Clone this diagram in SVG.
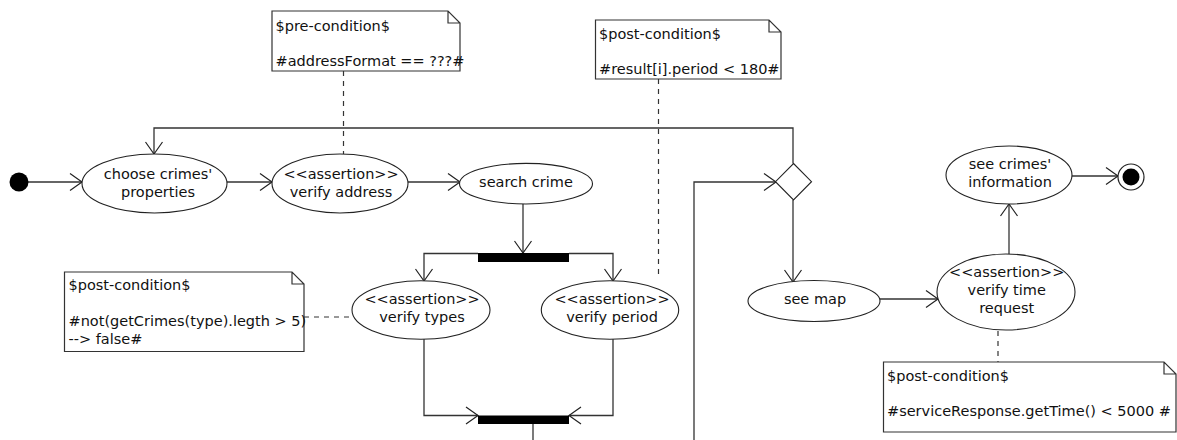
<svg xmlns="http://www.w3.org/2000/svg" width="1177" height="440" viewBox="0 0 1177 440">
<style>
text{font-family:"DejaVu Sans","Liberation Sans",sans-serif;font-size:14.5px;fill:#111}
.c{text-anchor:middle}
.n{fill:#fff;stroke:#333;stroke-width:1.2}
.a{fill:#fff;stroke:#222;stroke-width:1.1}
.l{fill:none;stroke:#333;stroke-width:1.3}
.d{fill:none;stroke:#333;stroke-width:1.2;stroke-dasharray:5,5}
.bar{fill:#000}
</style>
<defs>
<marker id="arr" markerUnits="userSpaceOnUse" markerWidth="16" markerHeight="20" refX="13" refY="10" orient="auto" overflow="visible">
<path d="M1,1.5 L13,10 L1,18.5" fill="none" stroke="#222" stroke-width="1.2"/>
</marker>
</defs>
<rect width="1177" height="440" fill="#fff"/>
<g id="connectors">
<line class="l" x1="28" y1="182" x2="82" y2="182" marker-end="url(#arr)"/>
<line class="l" x1="227" y1="182" x2="272" y2="182" marker-end="url(#arr)"/>
<line class="l" x1="408" y1="182" x2="460" y2="182" marker-end="url(#arr)"/>
<polyline class="l" points="793,163.5 793,128 154,128 154,154" marker-end="url(#arr)"/>
<line class="l" x1="523" y1="204" x2="523" y2="253" marker-end="url(#arr)"/>
<polyline class="l" points="478,253.5 424,253.5 424,281" marker-end="url(#arr)"/>
<polyline class="l" points="569,253.5 613,253.5 613,281" marker-end="url(#arr)"/>
<polyline class="l" points="424,339 424,415.5 478,415.5" marker-end="url(#arr)"/>
<polyline class="l" points="613,339 613,415.5 569,415.5" marker-end="url(#arr)"/>
<line class="l" x1="533" y1="424" x2="533" y2="440"/>
<polyline class="l" points="694,440 694,182 776,182" marker-end="url(#arr)"/>
<line class="l" x1="793" y1="200" x2="793" y2="282" marker-end="url(#arr)"/>
<line class="l" x1="880" y1="299" x2="938" y2="299" marker-end="url(#arr)"/>
<line class="l" x1="1009" y1="254" x2="1009" y2="204" marker-end="url(#arr)"/>
<line class="l" x1="1072" y1="176" x2="1118" y2="176" marker-end="url(#arr)"/>
<line class="d" x1="343.5" y1="71" x2="343.5" y2="154"/>
<line class="d" x1="658.5" y1="79" x2="658.5" y2="278"/>
<line class="d" x1="304" y1="317" x2="353" y2="317"/>
<line class="d" x1="998" y1="331" x2="998" y2="362"/>
</g>
<g id="initial"><circle cx="19" cy="182" r="9.5" fill="#000"/></g>
<g id="chooseCrimes">
<ellipse class="a" cx="154.5" cy="183.5" rx="72.5" ry="29.5"/>
<text class="c" x="158" y="179.3">choose crimes'</text>
<text class="c" x="158" y="196.7">properties</text>
</g>
<g id="verifyAddress">
<ellipse class="a" cx="340" cy="183.5" rx="68" ry="29.5"/>
<text class="c" x="341" y="179.3">&lt;&lt;assertion&gt;&gt;</text>
<text class="c" x="341" y="196.7">verify address</text>
</g>
<g id="searchCrime">
<ellipse class="a" cx="526" cy="183.7" rx="66.5" ry="20.3"/>
<text class="c" x="526" y="187">search crime</text>
</g>
<g id="fork"><rect class="bar" x="478" y="253" width="91" height="9"/></g>
<g id="verifyTypes">
<ellipse class="a" cx="421" cy="310" rx="69" ry="29.3"/>
<text class="c" x="422" y="304">&lt;&lt;assertion&gt;&gt;</text>
<text class="c" x="422" y="321.7">verify types</text>
</g>
<g id="verifyPeriod">
<ellipse class="a" cx="610" cy="310" rx="68.7" ry="29.3"/>
<text class="c" x="612" y="304">&lt;&lt;assertion&gt;&gt;</text>
<text class="c" x="612" y="321.7">verify period</text>
</g>
<g id="join"><rect class="bar" x="478" y="415.5" width="91" height="8.5"/></g>
<g id="decision"><polygon class="a" points="793.5,163.5 811.5,181.7 793.5,200 775.5,181.7"/></g>
<g id="seeMap">
<ellipse class="a" cx="814" cy="301" rx="66" ry="20.5"/>
<text class="c" x="815" y="304.3">see map</text>
</g>
<g id="verifyTime">
<ellipse class="a" cx="1006" cy="292" rx="69" ry="38"/>
<text class="c" x="1006.7" y="276.7">&lt;&lt;assertion&gt;&gt;</text>
<text class="c" x="1006.7" y="295">verify time</text>
<text class="c" x="1006.7" y="312.7">request</text>
</g>
<g id="seeCrimesInfo">
<ellipse class="a" cx="1009" cy="175" rx="63" ry="29"/>
<text class="c" x="1010" y="169.3">see crimes'</text>
<text class="c" x="1010" y="187.3">information</text>
</g>
<g id="final">
<circle cx="1131" cy="177" r="13" fill="#fff" stroke="#222" stroke-width="1.2"/>
<circle cx="1131" cy="177" r="8.5" fill="#000"/>
</g>
<g id="notePre">
<path class="n" d="M272,11 H448 L460,23 V71 H272 Z M448,11 V23 H460"/>
<text x="275.5" y="31">$pre-condition$</text>
<text x="275.5" y="66">#addressFormat == ???#</text>
</g>
<g id="notePeriod">
<path class="n" d="M595.5,20 H769 L781,32 V79 H595.5 Z M769,20 V32 H781"/>
<text x="599" y="38.5">$post-condition$</text>
<text x="599" y="74">#result[i].period &lt; 180#</text>
</g>
<g id="noteTypes">
<path class="n" d="M64.5,272 H292 L304,284 V351.5 H64.5 Z M292,272 V284 H304"/>
<text x="68.5" y="290">$post-condition$</text>
<text x="68.5" y="326">#not(getCrimes(type).legth &gt; 5)</text>
<text x="68.5" y="344">--&gt; false#</text>
</g>
<g id="noteTime">
<path class="n" d="M883.5,362 H1164 L1176,374 V432 H883.5 Z M1164,362 V374 H1176"/>
<text x="887" y="381">$post-condition$</text>
<text x="887" y="416">#serviceResponse.getTime() &lt; 5000 #</text>
</g>
</svg>
